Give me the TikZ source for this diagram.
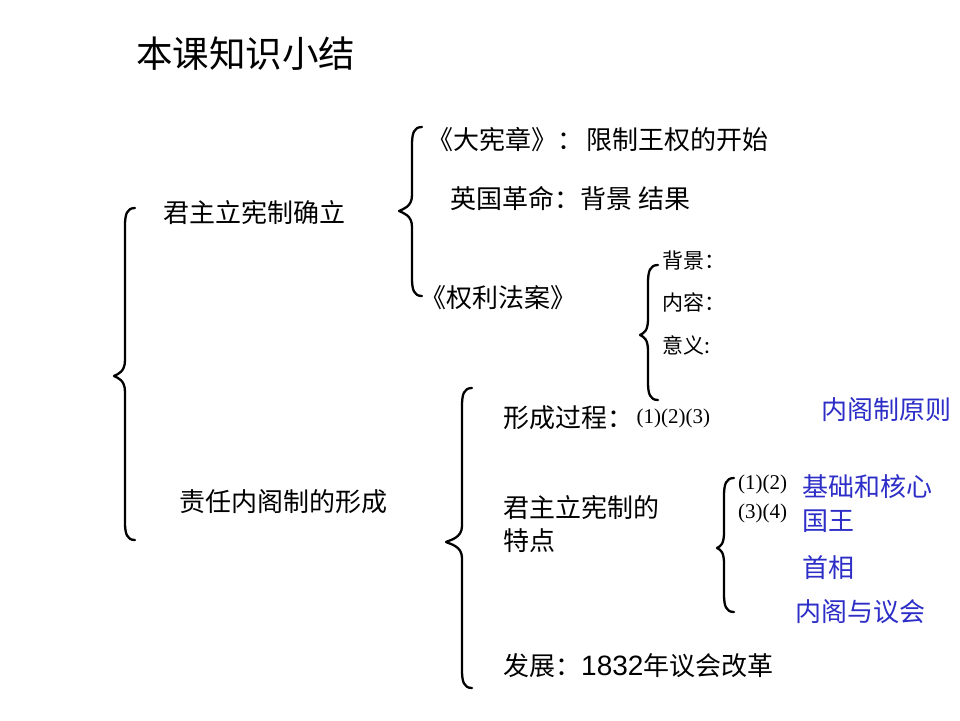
\documentclass[tikz,border=0pt]{standalone}
\usepackage{fontspec}
\setmainfont{Noto Sans CJK SC}
\newfontfamily\numserif{Liberation Serif}
\newfontfamily\numsans{Liberation Sans}
\definecolor{myblue}{RGB}{45,45,200}
\newcommand{\mybrace}[5]{% xv, xtip, ytop, ymid, ybot
  \draw[bracestyle] (#1+10,#3) .. controls (#1+2,#3) and (#1,#3+6) .. (#1,#3+18)
    -- (#1,#4-16) .. controls (#1,#4-4) and (#2+4,#4-2) .. (#2,#4)
    .. controls (#2+4,#4+2) and (#1,#4+4) .. (#1,#4+16)
    -- (#1,#5-18) .. controls (#1,#5-6) and (#1+2,#5) .. (#1+10,#5);}
\begin{document}
\begin{tikzpicture}[x=1pt,y=-1pt,
  bracestyle/.style={line width=2.3pt,line cap=round,line join=round},
  txt/.style={anchor=west,inner sep=0pt,font=\fontsize{26}{28}\selectfont},
  small/.style={anchor=west,inner sep=0pt,font=\fontsize{21}{23}\selectfont},
  bluetxt/.style={txt,text=myblue},
  paren/.style={anchor=west,inner sep=0pt,font=\numserif\fontsize{21}{23}\selectfont}]
\useasboundingbox (0,0) rectangle (960,720);
\fill[white] (0,0) rectangle (960,720);
\node[anchor=west,inner sep=0pt,font=\fontsize{36.5}{40}\selectfont] (title) at (136,54) {本课知识小结};
% main brace
\mybrace{125}{114}{208}{376}{540}
\node[txt] (jz) at (163,213) {君主立宪制确立};
\node[txt] (zr) at (179,502) {责任内阁制的形成};
% brace 2
\mybrace{412}{399}{127}{211}{296}
\node[txt] (dxz) at (427,140) {《大宪章》：\hspace{3pt}限制王权的开始};
\node[txt] (ygg) at (450,198) {英国革命：背景 结果};
\node[txt] (qlfa) at (420,298) {《权利法案》};
% brace 3
\mybrace{648}{640}{265}{335}{400}
\node[small] (bj) at (662,261) {背景：};
\node[small] (nr) at (662,302) {内容：};
\node[small] (yy) at (662,345) {意义:};
% brace 4
\mybrace{462}{446}{388}{542}{688}
\node[txt] (xc) at (503,418) {形成过程：};
\node[paren,anchor=west] (p123) at ([xshift=3pt]xc.east) {(1)(2)(3)};
\node[bluetxt] (nzy) at (821,410) {内阁制原则};
\node[txt,align=left,font=\fontsize{26}{33}\selectfont] (td) at (503,524) {君主立宪制的\\特点};
\node[txt] (fz) at (503,666) {发展：{\numsans\fontsize{28}{28}\selectfont 1832}年议会改革};
% brace 5
\mybrace{724}{717}{478}{548}{612}
\node[paren] (p12) at (738,484) {(1)(2)};
\node[paren] (p34) at (738,513) {(3)(4)};
\node[bluetxt] (jc) at (802,487) {基础和核心};
\node[bluetxt] (gw) at (802,521) {国王};
\node[bluetxt] (sx) at (802,568) {首相};
\node[bluetxt] (nyy) at (795,612) {内阁与议会};
\end{tikzpicture}
\end{document}
